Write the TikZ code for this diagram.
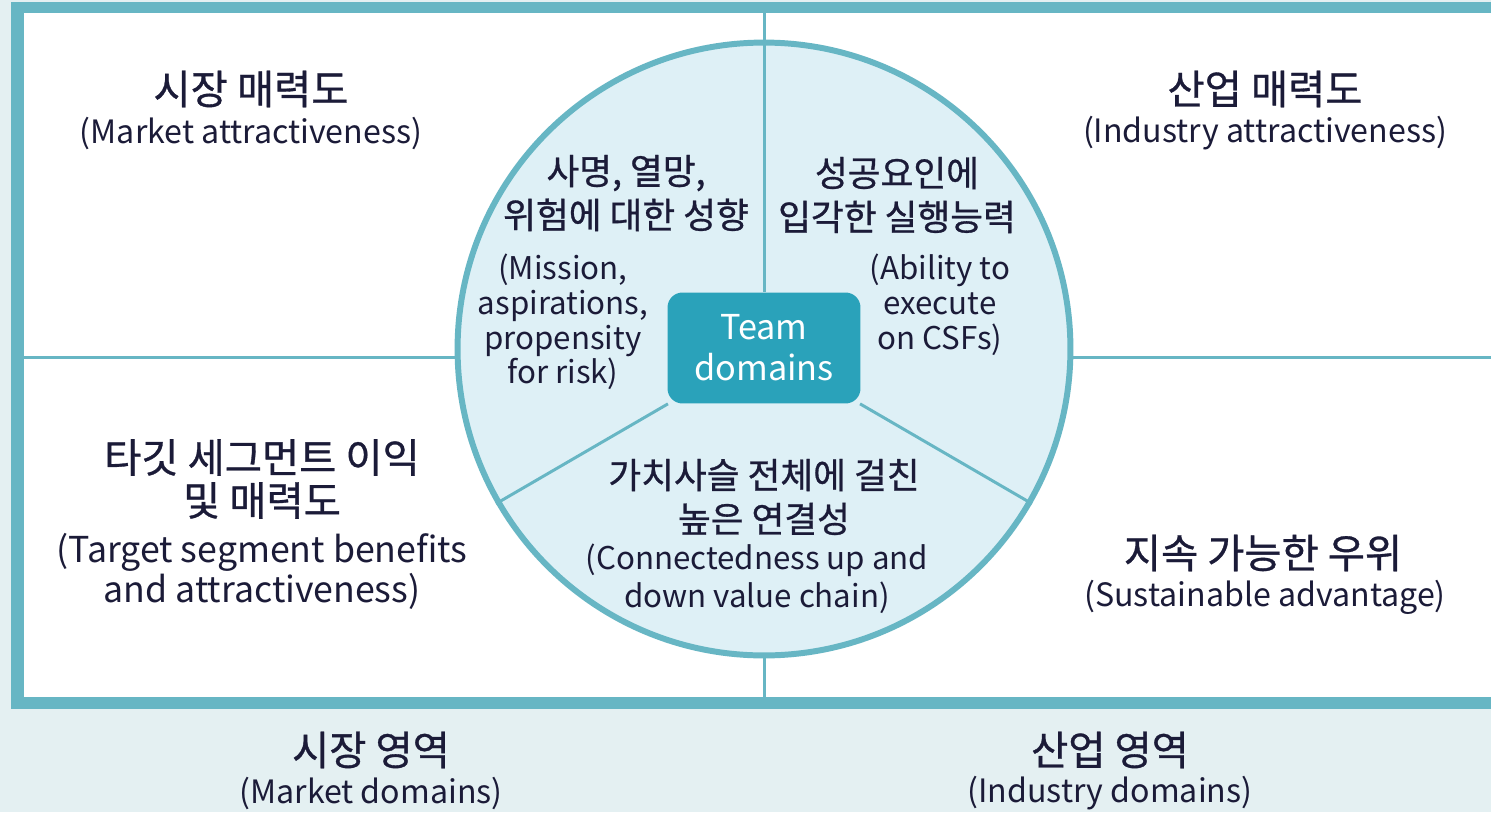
\documentclass[tikz,border=0pt]{standalone}
\usepackage{fontspec}
\setmainfont{Noto Sans CJK KR}
\newfontfamily\kofont{Noto Sans CJK KR}[FakeBold=0.8]
\definecolor{tealline}{HTML}{67B6C4}
\definecolor{paper}{HTML}{E4F0F2}
\definecolor{disc}{HTML}{DEF0F6}
\definecolor{teambg}{HTML}{2AA2BA}
\definecolor{ink}{HTML}{1B1B38}

\begin{document}
\begin{tikzpicture}[x=0.02cm,y=-0.02cm,
  kor/.style={text=ink,align=center,inner sep=0pt,font=\kofont\fontsize{23}{24.5}\selectfont},
  eng/.style={text=ink,align=center,inner sep=0pt,font=\fontsize{18.3}{22.8}\selectfont},
  ckor/.style={kor,font=\kofont\fontsize{20.3}{25}\selectfont},
  ceng/.style={eng,font=\fontsize{17.8}{19.8}\selectfont},
  divider/.style={draw=tealline,line width=1.7pt}]
\useasboundingbox (0,0) rectangle (1491,812);
\fill[paper] (0,0) rectangle (1491,812);
\fill[tealline] (11,2) rectangle (1491,709);
\fill[white] (24,13) rectangle (1491,697);
% quadrant dividers
\coordinate (top) at (764,13);
\coordinate (bot) at (764,697);
\coordinate (lft) at (24,357);
\coordinate (rgt) at (1491,357);
\node[circle,draw=tealline,fill=disc,line width=3.4pt,minimum size=12.26cm,inner sep=0pt] (circ) at (764,349) {};
\draw[divider] (top) -- (circ.north);
\draw[divider] (circ.south) -- (bot);
\draw[divider] (lft) -- (lft -| circ.west);
\draw[divider] (lft -| circ.east) -- (rgt);
% centre box and spokes
\node[fill=teambg,rounded corners=0.3cm,minimum width=3.86cm,minimum height=2.22cm,text=white,align=center,
  font=\fontsize{19.5}{23.5}\selectfont] (team) at (764,348) {Team\\domains};
\draw[divider] (circ.north) -- (team);
\draw[divider] (circ.210) -- (team);
\draw[divider] (circ.330) -- (team);
% outer quadrants
\node[kor] (mktk) at (251,89) {시장 매력도};
\node[eng] (mkte) at (251,133) {(Market attractiveness)};
\node[kor] (indk) at (1265,89) {산업 매력도};
\node[eng] (inde) at (1265,133) {(Industry attractiveness)};
\node[kor] (tgtk) at (262,479) {타깃 세그먼트 이익\\및 매력도};
\node[eng,font=\fontsize{20.3}{22.8}\selectfont] (tgte) at (262,571) {(Target segment benefits\\and attractiveness)};
\node[kor] (susk) at (1263,553) {지속 가능한 우위};
\node[eng] (suse) at (1265,597) {(Sustainable advantage)};
% circle sectors
\node[ckor] (msnk) at (626,193) {사명, 열망,\\위험에 대한 성향};
\node[ceng] (msne) at (563,322) {(Mission,\\aspirations,\\propensity\\for risk)};
\node[ckor] (ablk) at (897,195) {성공요인에\\입각한 실행능력};
\node[ceng] (able) at (940,305) {(Ability to\\execute\\on CSFs)};
\node[ckor] (cnxk) at (764,497) {가치사슬 전체에 걸친\\높은 연결성};
\node[ceng,font=\fontsize{17.8}{21.5}\selectfont] (cnxe) at (757,579) {(Connectedness up and\\down value chain)};
% domains below the frame
\node[kor] (mdk) at (371,750) {시장 영역};
\node[eng] (mde) at (371,793) {(Market domains)};
\node[kor] (idk) at (1110,750) {산업 영역};
\node[eng] (ide) at (1110,793) {(Industry domains)};
\end{tikzpicture}
\end{document}
